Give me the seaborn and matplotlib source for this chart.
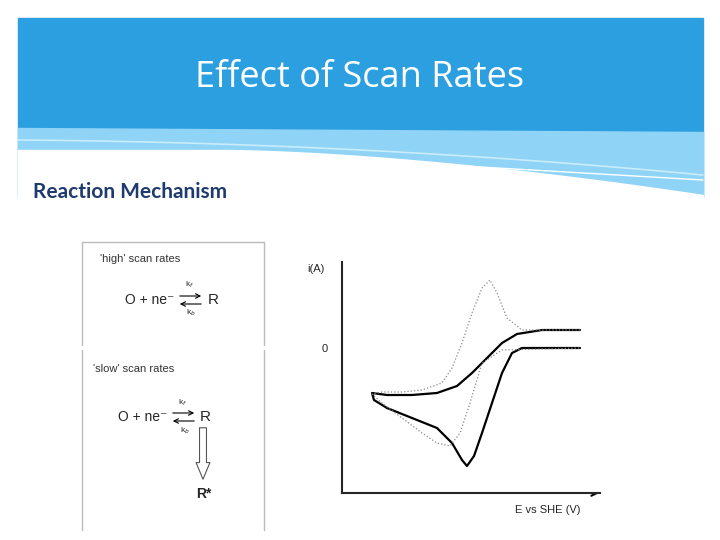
import matplotlib
matplotlib.use("Agg")
import matplotlib.pyplot as plt
import seaborn as sns
import numpy as np
import pandas as pd
from matplotlib.patches import Rectangle, FancyArrowPatch

sns.set_style("white")
plt.rcParams['font.family'] = ['Liberation Sans', 'DejaVu Sans']

title = "Effect of Scan Rates"
subtitle = "Reaction Mechanism"

# CV curves (E in plot units 0..258, i with 0 at 0, positive upward)
slow_E = [238, 200, 175, 160, 145, 130, 115, 95, 70, 45, 30, 32, 45, 70, 95, 110, 120, 125, 132, 140, 150, 160, 170, 180, 238]
slow_i = [18, 18, 14, 5, -10, -25, -38, -45, -47, -47, -45, -52, -60, -70, -80, -95, -112, -118, -108, -85, -55, -25, -5, 0, 0]
high_E = [238, 180, 165, 155, 148, 140, 130, 120, 110, 100, 80, 60, 40, 30, 40, 60, 80, 95, 108, 118, 128, 140, 160, 238]
high_i = [18, 18, 30, 55, 68, 60, 35, 5, -20, -35, -42, -44, -44, -46, -55, -70, -85, -95, -98, -85, -55, -15, -2, 0]

fig = plt.figure(figsize=(7.2, 5.4), dpi=100)
bg = fig.add_axes([0, 0, 1, 1])
bg.set_xlim(0, 720); bg.set_ylim(540, 0); bg.axis('off')
# header
bg.add_patch(Rectangle((18, 18), 685, 180, color='#2b9fe0', zorder=0))
xs = np.linspace(18, 703, 300)
t = (xs - 18) / 685
y_lb = 128 + 4 * t
y_w = np.where(t < 0.3, 150, 150 + 45 * ((t - 0.3) / 0.7) ** 1.6)
bg.fill_between(xs, y_w, y_lb, color='#8fd3f7', zorder=1)
bg.fill_between(xs, 200, y_w, color='white', zorder=2)
bg.plot(xs, 140 + 5 * t + 30 * t ** 2, color='#c9ecfb', lw=1.2, zorder=1.5)
bg.plot(xs[t > 0.55], (170 + 40 * (t - 0.75)) [t > 0.55], color='white', lw=1, zorder=1.5)
bg.add_patch(Rectangle((0, 198), 720, 342, color='white', zorder=2))

def arrow(p0, p1, **k):
    a = dict(arrowstyle='->', lw=0.8, color='black', mutation_scale=8)
    a.update(k)
    bg.add_patch(FancyArrowPatch(p0, p1, zorder=6, **a))

bg.text(360, 78, title, color='white', fontsize=26, ha='center', va='center', family=['Open Sans', 'DejaVu Sans'], zorder=3)
bg.text(33, 192, subtitle, color='#1f3a6e', fontsize=15, fontweight='bold', ha='left', va='center', family=['Lato', 'DejaVu Sans'], zorder=3)
# left mechanism panel
bg.plot([82, 264, 264], [242, 242, 345], color='#bbbbbb', lw=1, zorder=3)
bg.plot([82, 82], [242, 345], color='#bbbbbb', lw=1, zorder=3)
bg.plot([82, 82], [350, 530], color='#bbbbbb', lw=1, zorder=3)
bg.plot([264, 264], [350, 530], color='#bbbbbb', lw=1, zorder=3)
kw = dict(fontsize=8, zorder=4, color='#333333')
bg.text(100, 262, "'high' scan rates", **kw)
bg.text(125, 300, "O + ne\u207b", fontsize=10, va='center', zorder=4)
bg.text(208, 300, "R", fontsize=11, va='center', zorder=4)
arrow((177, 296), (204, 296)); arrow((204, 304), (177, 304))
bg.text(185, 287, "k$_f$", fontsize=6, zorder=4); bg.text(186, 314, "k$_b$", fontsize=6, zorder=4)
bg.text(93, 372, "'slow' scan rates", **kw)
bg.text(118, 417, "O + ne\u207b", fontsize=10, va='center', zorder=4)
bg.text(200, 417, "R", fontsize=11, va='center', zorder=4)
arrow((170, 413), (197, 413)); arrow((197, 421), (170, 421))
bg.text(178, 405, "k$_f$", fontsize=6, zorder=4); bg.text(180, 433, "k$_b$", fontsize=6, zorder=4)
bg.add_patch(FancyArrowPatch((203, 425), (203, 482), arrowstyle='simple,head_width=10,head_length=12,tail_width=5', fc='white', ec='#555555', lw=0.8, zorder=4))
bg.text(196, 498, "R*", fontsize=10, fontweight='bold', zorder=4)

# CV axes
ax = fig.add_axes([342/720, 1-493/540, 258/720, 231/540])
ax.set_xlim(0, 258); ax.set_ylim(-145, 86)
df_s = pd.DataFrame({'E': slow_E, 'i': slow_i})
df_h = pd.DataFrame({'E': high_E, 'i': high_i})
sns.lineplot(data=df_s, x='E', y='i', sort=False, ax=ax, color='black', lw=1.6, estimator=None)
sns.lineplot(data=df_h, x='E', y='i', sort=False, ax=ax, color='#888888', lw=0.9, ls=':', estimator=None)
for s in ['top', 'right']: ax.spines[s].set_visible(False)
for s in ['left', 'bottom']: ax.spines[s].set_linewidth(1.5)
ax.set_xticks([]); ax.set_yticks([]); ax.set_xlabel(''); ax.set_ylabel('')
arrow((590, 493), (602, 493), lw=1.5, mutation_scale=10)
# direction arrows on loops
arrow((462, 355), (452, 385), arrowstyle='-|>', mutation_scale=12)
arrow((485, 375), (476, 402), arrowstyle='-|>', mutation_scale=12)
bg.text(307, 272, "i(A)", fontsize=8, zorder=4)
bg.text(322, 352, "0", fontsize=8, zorder=4)
bg.text(515, 513, "E vs SHE (V)", fontsize=8, zorder=4)
bg.text(473, 274, "'high' scan rate", fontsize=7.5, zorder=4)
bg.text(505, 456, "'low' scan rate", fontsize=7.5, zorder=4)
arrow((490, 280), (496, 298), lw=0.6)
arrow((503, 452), (485, 462), lw=0.6)
fig.savefig("out.png", dpi=100)
